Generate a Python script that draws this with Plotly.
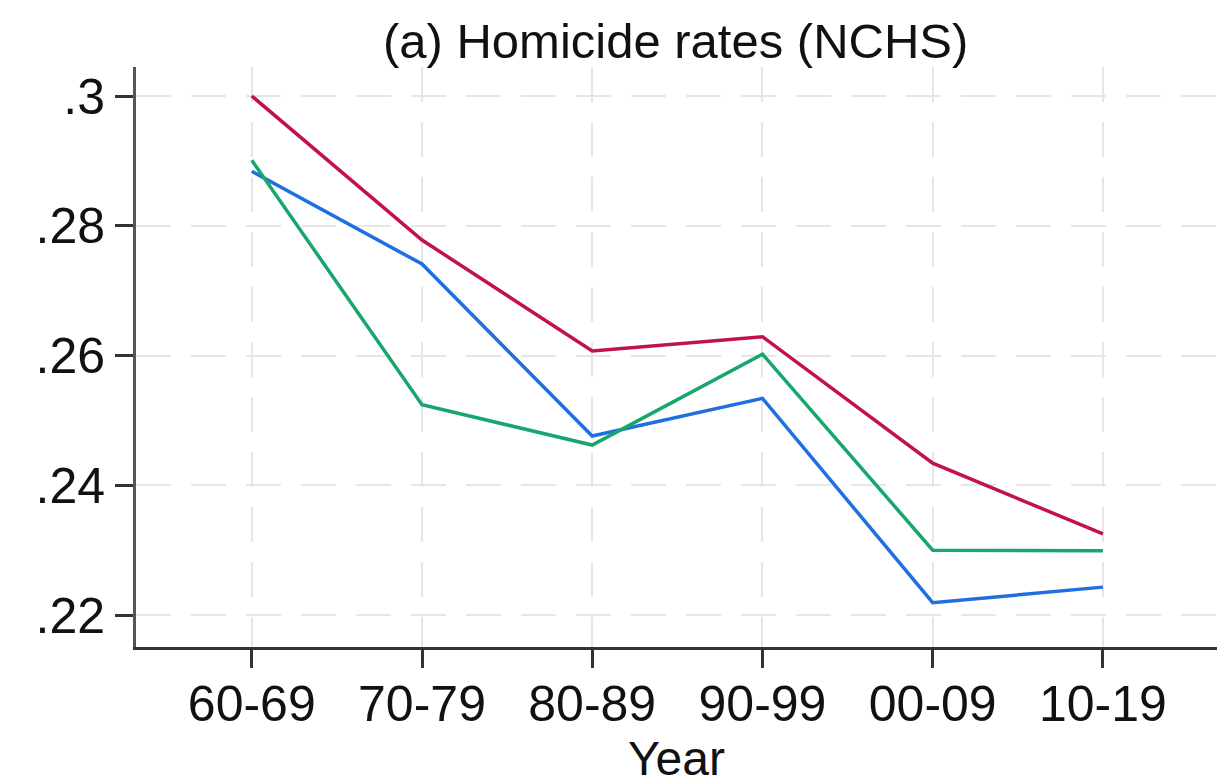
import plotly.graph_objects as go

categories = ["60-69", "70-79", "80-89", "90-99", "00-09", "10-19"]
red_values = [0.3000, 0.2778, 0.2607, 0.2629, 0.2434, 0.2325]
blue_values = [0.2884, 0.2741, 0.2476, 0.2534, 0.2219, 0.2243]
green_values = [0.2901, 0.2524, 0.2462, 0.2602, 0.2300, 0.2299]
y_tick_vals = [0.22, 0.24, 0.26, 0.28, 0.30]
y_tick_text = [".22", ".24", ".26", ".28", ".3"]

x_idx = list(range(len(categories)))

fig = go.Figure()
for vals, color in [(red_values, "#c3124b"), (blue_values, "#1f6fe0"), (green_values, "#17a66c")]:
    fig.add_trace(go.Scatter(x=x_idx, y=vals, mode="lines",
                             line=dict(color=color, width=3.5), showlegend=False,
                             hoverinfo="skip"))

font_family = "Liberation Sans, Arial, sans-serif"

fig.update_layout(
    width=1225, height=784,
    margin=dict(l=128, r=16, t=59, b=145),
    paper_bgcolor="white", plot_bgcolor="white",
    title=dict(text="(a) Homicide rates (NCHS)", x=0.545, xanchor="center",
               yref="container", y=1 - 33/784, yanchor="middle",
               font=dict(family=font_family, size=49, color="#111")),
    font=dict(family=font_family, color="#111"),
)

fig.update_xaxes(
    range=[-0.68, 5.67],
    tickmode="array", tickvals=x_idx, ticktext=categories,
    ticks="outside", ticklen=18, tickwidth=3, tickcolor="#333",
    tickfont=dict(size=50, family=font_family, color="#111"),
    ticklabelstandoff=-7,
    showline=True, linecolor="#333", linewidth=3,
    showgrid=True, gridcolor="#e6e6e6", gridwidth=2, griddash="35px,20px",
    zeroline=False,
    title=dict(text="Year", font=dict(size=48, family=font_family, color="#111"), standoff=0),
)

fig.update_yaxes(
    range=[0.21507, 0.30447],
    tickmode="array", tickvals=y_tick_vals, ticktext=y_tick_text,
    ticks="outside", ticklen=18, tickwidth=3, tickcolor="#333",
    tickfont=dict(size=50, family=font_family, color="#111"),
    showline=True, linecolor="#555", linewidth=3,
    showgrid=True, gridcolor="#e6e6e6", gridwidth=2, griddash="35px,20px",
    zeroline=False,
)

fig.write_html("out.html")
